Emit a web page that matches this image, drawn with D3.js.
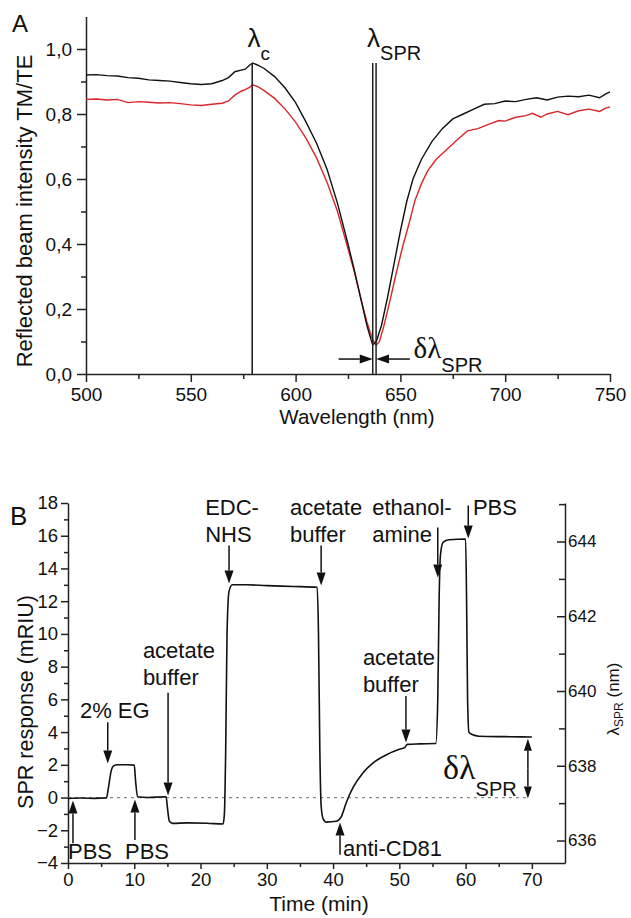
<!DOCTYPE html>
<html>
<head>
<meta charset="utf-8">
<script src="https://cdn.jsdelivr.net/npm/d3@7/dist/d3.min.js"></script>
<style>
  body { margin: 0; background: #fff; }
  svg text { font-family: "Liberation Sans", Arial, sans-serif; fill: #111; }
  .axis path, .axis line { stroke: #222; stroke-width: 1.5; }
</style>
</head>
<body>
<div id="chart"></div>
<script>
// ---- panel A : reflected intensity spectra (TM/TE) ----
var nmBlack = [500, 505, 510, 515, 520, 525, 530, 535, 540, 545, 550, 555, 560, 565, 568, 571, 574, 576, 578, 579.5,
  582, 585, 590, 595, 600, 605, 610, 615, 620, 625, 628, 631, 634, 636, 636.8, 638.5, 641, 644, 647, 650, 653, 656,
  660, 665, 670, 675, 680, 685, 690, 695, 700, 705, 710, 715, 720, 725, 730, 735, 740, 745, 748, 750];
var valBlack = [0.920, 0.921, 0.918, 0.917, 0.912, 0.910, 0.905, 0.903, 0.901, 0.897, 0.893, 0.891, 0.893, 0.903, 0.912, 0.930, 0.935, 0.938, 0.950, 0.957,
  0.950, 0.940, 0.915, 0.880, 0.835, 0.775, 0.710, 0.630, 0.525, 0.400, 0.320, 0.235, 0.150, 0.105, 0.090, 0.100, 0.150, 0.240, 0.340, 0.440, 0.530, 0.600,
  0.660, 0.715, 0.755, 0.785, 0.800, 0.815, 0.830, 0.832, 0.840, 0.838, 0.845, 0.850, 0.843, 0.852, 0.855, 0.853, 0.858, 0.850, 0.862, 0.868];

var nmRed = [500, 505, 510, 515, 520, 525, 530, 535, 540, 545, 550, 555, 560, 565, 568, 571, 574, 576, 578, 579.5,
  582, 585, 590, 595, 600, 605, 610, 615, 620, 625, 628, 631, 634, 636.5, 638.4, 640, 642, 645, 648, 651, 654, 657,
  660, 663, 667, 672, 677, 682, 687, 692, 697, 700, 705, 710, 713, 717, 720, 725, 730, 735, 740, 745, 748, 750];
var valRed = [0.845, 0.846, 0.843, 0.845, 0.835, 0.838, 0.836, 0.834, 0.835, 0.832, 0.828, 0.826, 0.830, 0.833, 0.840, 0.858, 0.870, 0.875, 0.882, 0.890,
  0.884, 0.872, 0.848, 0.815, 0.775, 0.725, 0.665, 0.590, 0.500, 0.385, 0.315, 0.235, 0.160, 0.110, 0.088, 0.100, 0.145, 0.225, 0.310, 0.390, 0.460, 0.535,
  0.585, 0.625, 0.660, 0.690, 0.720, 0.748, 0.755, 0.768, 0.780, 0.778, 0.790, 0.795, 0.802, 0.790, 0.800, 0.808, 0.798, 0.810, 0.815, 0.808, 0.818, 0.822];

var lambdaC = 579.3;             // critical wavelength
var lambdaSPR = [636.8, 638.4];  // resonance minima (black, red)

var ticksA_x = [500, 550, 600, 650, 700, 750];
var minorA_x = [525, 575, 625, 675, 725];
var ticksA_y = [0, 0.2, 0.4, 0.6, 0.8, 1.0];
var minorA_y = [0.1, 0.3, 0.5, 0.7, 0.9];

// ---- panel B : SPR sensorgram ----
var timeMin = [0, 2, 4, 5.8, 6.1, 6.5, 6.9, 7.5, 9, 10.0, 10.2, 10.5, 12, 14.8, 15.0, 15.3, 15.8, 18, 21, 23.4,
  23.6, 23.8, 24.0, 24.3, 24.8, 27, 30, 34, 37.6, 37.8, 38.0, 38.2, 38.5, 39, 40.5, 41.2, 42, 43, 44.5, 46,
  48, 50, 50.8, 51.2, 53, 55.5, 55.8, 56.0, 56.2, 56.6, 57.5, 60.0, 60.15, 60.3, 60.5, 61.0, 62, 66, 70];
var respMRIU = [-0.05, -0.03, -0.05, -0.02, 0.6, 1.6, 1.95, 2.0, 2.0, 1.98, 1.0, 0.05, 0.0, 0.05, -0.6, -1.45, -1.58, -1.55, -1.57, -1.62,
  -1.0, 3, 10, 12.6, 13.0, 13.0, 12.95, 12.9, 12.85, 10, 3, -0.5, -1.3, -1.5, -1.45, -1.2, -0.3, 0.6, 1.5, 2.1,
  2.6, 2.95, 3.05, 3.25, 3.28, 3.3, 6, 12, 14.8, 15.6, 15.75, 15.8, 12, 6, 4.0, 3.85, 3.75, 3.72, 3.7];

var ticksB_x = [0, 10, 20, 30, 40, 50, 60, 70];
var minorB_x = [5, 15, 25, 35, 45, 55, 65];
var ticksB_y = [-4, -2, 0, 2, 4, 6, 8, 10, 12, 14, 16, 18];
var minorB_y = [-3, -1, 1, 3, 5, 7, 9, 11, 13, 15, 17];
var ticksB_r = [636, 638, 640, 642, 644];
var minorB_r = [637, 639, 641, 643, 645];

// injections: label lines, time, arrow tail / tip (mRIU), label start time and baseline (mRIU)
var evtLabel = [["PBS"], ["2% EG"], ["PBS"], ["acetate", "buffer"], ["EDC-", "NHS"], ["acetate", "buffer"],
  ["anti-CD81"], ["acetate", "buffer"], ["ethanol-", "amine"], ["PBS"]];
var evtTime = [0.75, 6.0, 10.1, 15.1, 24.3, 38.2, 41.05, 51.0, 55.8, 60.4];
var evtTail = [-2.8, 4.6, -2.6, 6.4, 15.4, 15.4, -3.5, 6.2, 16.5, 17.85];
var evtTip = [-0.18, 2.08, -0.12, 0.12, 13.08, 12.96, -1.53, 3.36, 13.45, 15.83];
var evtTextT = [0, 1.8, 8.6, 11.3, 20.7, 33.5, 41.5, 44.5, 45.9, 61.1];
var evtTextV = [-3.73, 4.89, -3.73, 8.5, 17.24, 17.24, -3.55, 8.07, 17.24, 17.24];

var lambda0 = 637.15;    // lambda_SPR at 0 mRIU
var nmPerMRIU = 0.4378;  // right axis conversion

var svg = d3.select("#chart").append("svg")
  .attr("width", 631)
  .attr("height", 918);

// filled arrow: line from (x1,y1) to tip (x2,y2)
function arrow(g, x1, y1, x2, y2, len, half) {
  var a = Math.atan2(y2 - y1, x2 - x1);
  var bx = x2 - len * Math.cos(a), by = y2 - len * Math.sin(a);
  g.append("line").attr("x1", x1).attr("y1", y1).attr("x2", bx).attr("y2", by)
    .attr("stroke", "#111").attr("stroke-width", 1.5);
  g.append("path")
    .attr("d", "M" + x2 + "," + y2 +
      "L" + (bx + half * Math.sin(a)) + "," + (by - half * Math.cos(a)) +
      "L" + (bx - half * Math.sin(a)) + "," + (by + half * Math.cos(a)) + "Z")
    .attr("fill", "#111");
}

var commaFmt = function(d) { return d3.format(".1f")(d).replace(".", ","); };

// ================= panel A =================
var xA = d3.scaleLinear().domain([500, 750]).range([86, 610]);
var yA = d3.scaleLinear().domain([0, 1.1]).range([374, 16.5]);
var gA = svg.append("g");

gA.append("g").attr("class", "axis").attr("transform", "translate(0,374)")
  .call(d3.axisBottom(xA).tickValues(minorA_x).tickSize(5).tickFormat(""))
  .call(function(g) { g.select(".domain").remove(); });
gA.append("g").attr("class", "axis").attr("transform", "translate(0,374)")
  .call(d3.axisBottom(xA).tickValues(ticksA_x).tickSize(8).tickSizeOuter(0).tickPadding(6).tickFormat(d3.format("d")))
  .selectAll("text").attr("font-size", 19);
gA.append("g").attr("class", "axis").attr("transform", "translate(86,0)")
  .call(d3.axisLeft(yA).tickValues(minorA_y).tickSize(5).tickFormat(""))
  .call(function(g) { g.select(".domain").remove(); });
gA.append("g").attr("class", "axis").attr("transform", "translate(86,0)")
  .call(d3.axisLeft(yA).tickValues(ticksA_y).tickSize(9).tickSizeOuter(0).tickPadding(5).tickFormat(commaFmt))
  .selectAll("text").attr("font-size", 19);
gA.selectAll(".axis text").attr("font-family", "Liberation Sans, Arial, sans-serif").attr("fill", "#111");

var lineA = d3.line().x(function(d) { return xA(d[0]); }).y(function(d) { return yA(d[1]); });
gA.append("path").datum(d3.zip(nmRed, valRed))
  .attr("d", lineA).attr("fill", "none").attr("stroke", "#d9262a").attr("stroke-width", 1.4);
gA.append("path").datum(d3.zip(nmBlack, valBlack))
  .attr("d", lineA).attr("fill", "none").attr("stroke", "#111").attr("stroke-width", 1.4);

// marker lines
gA.append("line").attr("x1", xA(lambdaC)).attr("x2", xA(lambdaC))
  .attr("y1", yA(0.957)).attr("y2", yA(0)).attr("stroke", "#222").attr("stroke-width", 1.6);
gA.selectAll(".spr").data(lambdaSPR).join("line")
  .attr("x1", function(d) { return xA(d); }).attr("x2", function(d) { return xA(d); })
  .attr("y1", yA(0.957)).attr("y2", yA(0)).attr("stroke", "#222").attr("stroke-width", 1.5);

arrow(gA, xA(620.5), yA(0.046), xA(lambdaSPR[0]), yA(0.046), 13, 4.5);
arrow(gA, xA(654.5), yA(0.046), xA(lambdaSPR[1]), yA(0.046), 13, 4.5);

var tC = gA.append("text").attr("x", xA(577)).attr("y", yA(1.006)).attr("font-size", 26).text("λ");
tC.append("tspan").attr("font-size", 19).attr("dy", 13).text("c");
var tS = gA.append("text").attr("x", xA(634.1)).attr("y", yA(1.006)).attr("font-size", 26).text("λ");
tS.append("tspan").attr("font-size", 20).attr("dy", 13).text("SPR");
var tD = gA.append("text").attr("x", xA(656.3)).attr("y", yA(0.049))
  .attr("font-size", 29).style("font-family", "Liberation Serif, Times New Roman, serif").text("δλ");
tD.append("tspan").attr("font-size", 20).attr("dy", 14)
  .style("font-family", "Liberation Sans, Arial, sans-serif").text("SPR");

gA.append("text").attr("x", 357).attr("y", 424).attr("text-anchor", "middle")
  .attr("font-size", 20.5).text("Wavelength (nm)");
gA.append("text").attr("transform", "translate(32,211) rotate(-90)").attr("text-anchor", "middle")
  .attr("font-size", 22).text("Reflected beam intensity TM/TE");
gA.append("text").attr("x", 12).attr("y", 32).attr("font-size", 24).text("A");

// ================= panel B =================
var xB = d3.scaleLinear().domain([0, 75]).range([68, 565]);
var yB = d3.scaleLinear().domain([-4, 18]).range([863, 503]);
var yR = d3.scaleLinear().domain([lambda0 - 4 * nmPerMRIU, lambda0 + 18 * nmPerMRIU]).range([863, 503]);
var gB = svg.append("g");

gB.append("g").attr("class", "axis").attr("transform", "translate(0,863)")
  .call(d3.axisBottom(xB).tickValues(minorB_x).tickSize(4).tickFormat(""))
  .call(function(g) { g.select(".domain").remove(); });
gB.append("g").attr("class", "axis").attr("transform", "translate(0,863)")
  .call(d3.axisBottom(xB).tickValues(ticksB_x).tickSize(6).tickSizeOuter(0).tickPadding(4).tickFormat(d3.format("d")))
  .selectAll("text").attr("font-size", 18.5);
gB.append("g").attr("class", "axis").attr("transform", "translate(68,0)")
  .call(d3.axisLeft(yB).tickValues(minorB_y).tickSize(4).tickFormat(""))
  .call(function(g) { g.select(".domain").remove(); });
gB.append("g").attr("class", "axis").attr("transform", "translate(68,0)")
  .call(d3.axisLeft(yB).tickValues(ticksB_y).tickSize(7).tickSizeOuter(0).tickPadding(3).tickFormat(d3.format("d")))
  .selectAll("text").attr("font-size", 18.5);
gB.append("g").attr("class", "axis").attr("transform", "translate(565,0)")
  .call(d3.axisRight(yR).tickValues(minorB_r).tickSize(-6).tickFormat(""))
  .call(function(g) { g.select(".domain").remove(); });
gB.append("g").attr("class", "axis").attr("transform", "translate(565,0)")
  .call(d3.axisRight(yR).tickValues(ticksB_r).tickSize(-8).tickSizeOuter(0).tickPadding(3).tickFormat(d3.format("d")))
  .selectAll("text").attr("font-size", 17);
gB.selectAll(".axis text").attr("font-family", "Liberation Sans, Arial, sans-serif").attr("fill", "#111");

// zero baseline
gB.append("line").attr("x1", xB(0)).attr("x2", xB(69.5)).attr("y1", yB(0)).attr("y2", yB(0))
  .attr("stroke", "#888").attr("stroke-width", 1.2).attr("stroke-dasharray", "3,4");

var lineB = d3.line().curve(d3.curveMonotoneX)
  .x(function(d) { return xB(d[0]); }).y(function(d) { return yB(d[1]); });
gB.append("path").datum(d3.zip(timeMin, respMRIU))
  .attr("d", lineB).attr("fill", "none").attr("stroke", "#111").attr("stroke-width", 1.6);

// injection arrows and labels
for (let i = 0; i < evtTime.length; i++) {
  arrow(gB, xB(evtTime[i]), yB(evtTail[i]), xB(evtTime[i]), yB(evtTip[i]), 13, 4.5);
  let t = gB.append("text").attr("x", xB(evtTextT[i])).attr("y", yB(evtTextV[i])).attr("font-size", 22);
  evtLabel[i].forEach(function(s, j) {
    t.append("tspan").attr("x", xB(evtTextT[i])).attr("dy", j === 0 ? 0 : 27).text(s);
  });
}

// delta lambda double arrow
var dX = xB(69.4), dTop = yB(3.6), dBot = yB(-0.06), dMid = (dTop + dBot) / 2;
arrow(gB, dX, dMid, dX, dTop, 12, 4);
arrow(gB, dX, dMid, dX, dBot, 12, 4);
var tD2 = gB.append("text").attr("x", xB(56.6)).attr("y", yB(1.16))
  .attr("font-size", 34).style("font-family", "Liberation Serif, Times New Roman, serif").text("δλ");
tD2.append("tspan").attr("font-size", 20).attr("dy", 17)
  .style("font-family", "Liberation Sans, Arial, sans-serif").text("SPR");

gB.append("text").attr("x", 319).attr("y", 911).attr("text-anchor", "middle")
  .attr("font-size", 21).text("Time (min)");
gB.append("text").attr("transform", "translate(33,702) rotate(-90)").attr("text-anchor", "middle")
  .attr("font-size", 21.5).text("SPR response (mRIU)");
var tR = gB.append("text").attr("transform", "translate(619,699) rotate(-90)").attr("text-anchor", "middle")
  .attr("font-size", 17).text("λ");
tR.append("tspan").attr("font-size", 12).attr("dy", 4).text("SPR");
tR.append("tspan").attr("dy", -4).text(" (nm)");
gB.append("text").attr("x", 10).attr("y", 525).attr("font-size", 26).text("B");
</script>
</body>
</html>
